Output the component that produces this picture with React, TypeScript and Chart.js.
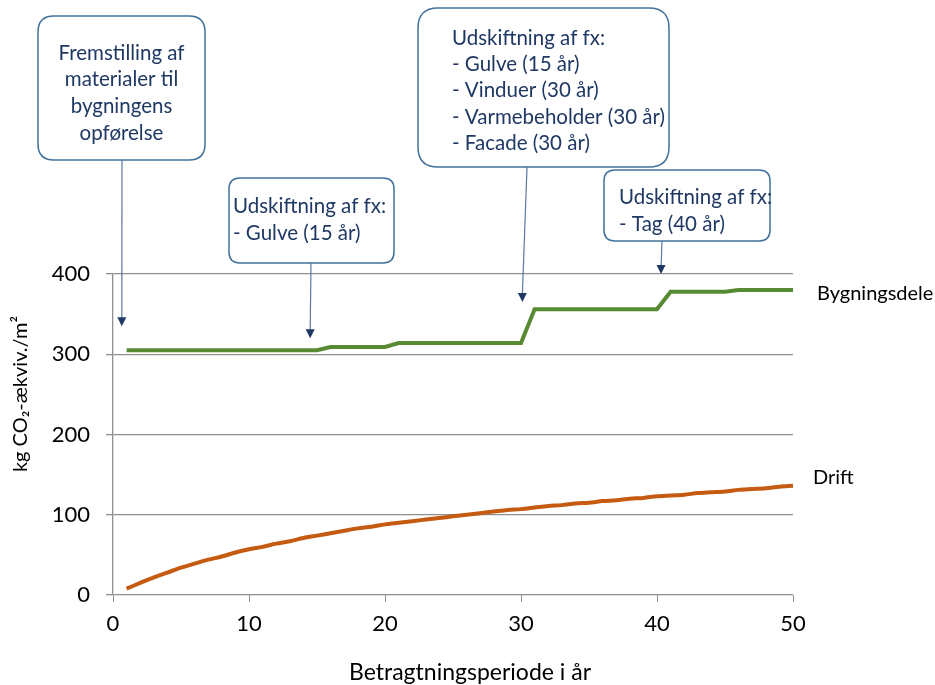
import React, { useEffect, useRef } from "react";
import { Chart, registerables } from "chart.js";

Chart.register(...registerables);

// ---------- DATA ----------
const years = [
  1, 2, 3, 4, 5, 6, 7, 8, 9, 10, 11, 12, 13, 14, 15, 16, 17, 18, 19, 20, 21, 22, 23, 24, 25,
  26, 27, 28, 29, 30, 31, 32, 33, 34, 35, 36, 37, 38, 39, 40, 41, 42, 43, 44, 45, 46, 47, 48, 49, 50,
];
const bygningsdele = [
  305, 305, 305, 305, 305, 305, 305, 305, 305, 305, 305, 305, 305, 305, 305,
  309, 309, 309, 309, 309,
  314, 314, 314, 314, 314, 314, 314, 314, 314, 314,
  356, 356, 356, 356, 356, 356, 356, 356, 356, 356,
  378, 378, 378, 378, 378,
  380, 380, 380, 380, 380,
];
const drift = [
  8, 15, 22, 28, 34, 39, 44, 48, 53, 57, 60, 64, 67, 71, 74, 77, 80, 83, 85, 88,
  90, 92, 94, 96, 98, 100, 102, 104, 106, 107, 109, 111, 112, 114, 115, 117, 118, 120, 121, 123,
  124, 125, 127, 128, 129, 131, 132, 133, 135, 136,
];
const seriesNames = ["Bygningsdele", "Drift"];
const xTickValues = [0, 10, 20, 30, 40, 50];
const yTickValues = [0, 100, 200, 300, 400];
const xTitle = "Betragtningsperiode i år";
const yTitle = "kg CO₂-ækviv./m²";

const calloutTexts = [
  ["Fremstilling af", "materialer til", "bygningens", "opførelse"],
  ["Udskiftning af fx:", "- Gulve (15 år)"],
  ["Udskiftning af fx:", "- Gulve (15 år)", "- Vinduer (30 år)", "- Varmebeholder (30 år)", "- Facade (30 år)"],
  ["Udskiftning af fx:", "- Tag (40 år)"],
];
const calloutYears = [0.65, 14.5, 30.1, 40.3];
const calloutValues = [335, 320, 365, 400];

// ---------- STYLE / LAYOUT ----------
const FONT = "Lato, 'Open Sans', sans-serif";
const GREEN = "#578a33";
const ORANGE = "#c55a11";
const GRID = "#8f8f8f";
const NAVY = "#1f3864";
const BOX_STROKE = "#41719c";
const ARROW_LINE = "#5a77a8";

const boxLayout = [
  { x: 38, y: 16, w: 167, h: 144, r: 16, align: "center", tx: 121.5, ty: 53, lh: 26.7, ax: 122 },
  { x: 229, y: 178, w: 165, h: 85, r: 11, align: "left", tx: 233, ty: 206, lh: 27, ax: 311 },
  { x: 418, y: 8, w: 251, h: 159, r: 20, align: "left", tx: 452, ty: 38, lh: 26.3, ax: 527 },
  { x: 604, y: 170, w: 166, h: 71, r: 11, align: "left", tx: 619, ty: 197, lh: 27, ax: 662 },
];

function roundRect(ctx: CanvasRenderingContext2D, x: number, y: number, w: number, h: number, r: number) {
  ctx.beginPath();
  ctx.moveTo(x + r, y);
  ctx.lineTo(x + w - r, y);
  ctx.quadraticCurveTo(x + w, y, x + w, y + r);
  ctx.lineTo(x + w, y + h - r);
  ctx.quadraticCurveTo(x + w, y + h, x + w - r, y + h);
  ctx.lineTo(x + r, y + h);
  ctx.quadraticCurveTo(x, y + h, x, y + h - r);
  ctx.lineTo(x, y + r);
  ctx.quadraticCurveTo(x, y, x + r, y);
  ctx.closePath();
}

const annotationPlugin = {
  id: "annotations",
  afterDraw(chart: any) {
    const ctx: CanvasRenderingContext2D = chart.ctx;
    const xs = chart.scales.x;
    const ys = chart.scales.y;
    const area = chart.chartArea;
    ctx.save();

    // callout boxes
    calloutTexts.forEach((lines, i) => {
      const b = boxLayout[i];
      roundRect(ctx, b.x, b.y, b.w, b.h, b.r);
      ctx.fillStyle = "#ffffff";
      ctx.fill();
      ctx.strokeStyle = BOX_STROKE;
      ctx.lineWidth = 1.5;
      ctx.stroke();
      ctx.fillStyle = NAVY;
      ctx.font = `20.5px ${FONT}`;
      ctx.textAlign = b.align as CanvasTextAlign;
      ctx.textBaseline = "middle";
      lines.forEach((ln, j) => ctx.fillText(ln, b.tx, b.ty + j * b.lh));

      // arrow
      const tipX = xs.getPixelForValue(calloutYears[i]);
      const tipY = ys.getPixelForValue(calloutValues[i]);
      const startY = b.y + b.h;
      ctx.strokeStyle = ARROW_LINE;
      ctx.lineWidth = 1.2;
      ctx.beginPath();
      ctx.moveTo(b.ax, startY);
      ctx.lineTo(tipX, tipY - 7);
      ctx.stroke();
      ctx.fillStyle = NAVY;
      ctx.beginPath();
      ctx.moveTo(tipX - 4.5, tipY - 9);
      ctx.lineTo(tipX + 4.5, tipY - 9);
      ctx.lineTo(tipX, tipY);
      ctx.closePath();
      ctx.fill();
    });

    // series end labels
    ctx.fillStyle = "#000000";
    ctx.font = `20px ${FONT}`;
    ctx.textAlign = "left";
    ctx.textBaseline = "middle";
    const lastB = bygningsdele[bygningsdele.length - 1];
    const lastD = drift[drift.length - 1];
    ctx.fillText(seriesNames[0], area.right + 24, ys.getPixelForValue(lastB) + 3);
    ctx.fillText(seriesNames[1], area.right + 20, ys.getPixelForValue(lastD) - 8);

    // axis titles
    ctx.font = `23px ${FONT}`;
    ctx.textAlign = "center";
    ctx.fillText(xTitle, 470, 673);

    ctx.save();
    ctx.translate(21, 394);
    ctx.rotate(-Math.PI / 2);
    ctx.font = `20px ${FONT}`;
    ctx.fillText(yTitle, 0, 0);
    ctx.restore();

    ctx.restore();
  },
};

export default function App() {
  const ref = useRef<HTMLCanvasElement | null>(null);

  useEffect(() => {
    if (!ref.current) return;
    const chart = new Chart(ref.current, {
      type: "line",
      data: {
        datasets: [
          {
            label: seriesNames[0],
            data: years.map((x, i) => ({ x, y: bygningsdele[i] })),
            borderColor: GREEN,
            borderWidth: 4,
            pointRadius: 0,
            tension: 0,
            fill: false,
          },
          {
            label: seriesNames[1],
            data: years.map((x, i) => ({ x, y: drift[i] })),
            borderColor: ORANGE,
            borderWidth: 4,
            pointRadius: 0,
            tension: 0.3,
            fill: false,
          },
        ],
      },
      options: {
        animation: false,
        responsive: true,
        maintainAspectRatio: false,
        layout: { padding: { top: 274, right: 142, left: 0, bottom: 0 } },
        plugins: {
          legend: { display: false },
          tooltip: { enabled: false },
          title: { display: false },
        },
        scales: {
          x: {
            type: "linear",
            min: 0,
            max: 50,
            afterFit: (s: any) => {
              s.height = 90;
            },
            afterBuildTicks: (s: any) => {
              s.ticks = xTickValues.map((v) => ({ value: v }));
            },
            grid: {
              drawOnChartArea: false,
              drawTicks: true,
              tickLength: 7,
              color: GRID,
            },
            border: { display: false },
            ticks: {
              padding: 9,
              color: "#000",
              font: { family: FONT, size: 22 },
              maxRotation: 0,
            },
          },
          y: {
            type: "linear",
            min: 0,
            max: 400,
            afterFit: (s: any) => {
              s.width = 113;
            },
            afterBuildTicks: (s: any) => {
              s.ticks = yTickValues.map((v) => ({ value: v }));
            },
            grid: {
              color: GRID,
              lineWidth: 1.3,
              tickLength: 7,
            },
            border: { display: true, color: GRID, width: 1.3 },
            ticks: {
              padding: 16,
              color: "#000",
              font: { family: FONT, size: 22 },
            },
          },
        },
      },
      plugins: [annotationPlugin],
    });
    return () => chart.destroy();
  }, []);

  return (
    <div style={{ position: "fixed", left: 0, top: 0, width: 935, height: 685, background: "#fff" }}>
      <canvas ref={ref} />
    </div>
  );
}
